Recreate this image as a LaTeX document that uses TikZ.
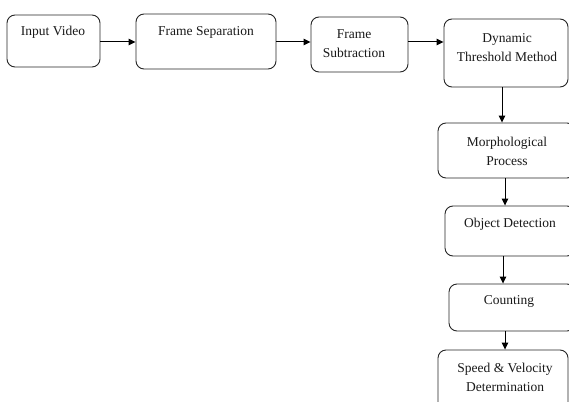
\documentclass[tikz,border=0pt]{standalone}
\usepackage{fontspec}
\setmainfont{Liberation Serif}
\usetikzlibrary{arrows.meta}
\begin{document}
\begin{tikzpicture}[x=1pt,y=-1pt,
  box/.style={draw=black!85, line width=0.9pt, rounded corners=8pt, inner sep=0pt},
  txt/.style={align=center, font=\fontsize{13.5}{19}\selectfont, inner sep=0pt, text=black!90},
  arr/.style={draw=black, line width=1pt, -{Triangle[length=7pt,width=6.5pt]}}]
\useasboundingbox (0,0) rectangle (569,401);
\clip (0,0) rectangle (569,401);
\fill[white] (0,0) rectangle (569,401);
% boxes
\node[box, minimum width=93pt, minimum height=52pt] (b1) at (53.5,41) {};
\node[box, minimum width=140pt, minimum height=55pt] (b2) at (206,41.5) {};
\node[box, minimum width=97pt, minimum height=55pt] (b3) at (359.5,44.5) {};
\node[box, minimum width=124pt, minimum height=68pt] (b4) at (506,53) {};
\node[box, minimum width=137pt, minimum height=55pt] (b5) at (506.5,150.5) {};
\node[box, minimum width=130pt, minimum height=50pt] (b6) at (510,231) {};
\node[box, minimum width=126pt, minimum height=47pt] (b7) at (512,307.5) {};
\node[box, minimum width=130pt, minimum height=60pt] (b8) at (503,380) {};
% texts
\node[txt] (t1) at (53,32) {Input Video};
\node[txt] (t2) at (206,32) {Frame Separation};
\node[txt] (t3) at (354,43.5) {Frame\\Subtraction};
\node[txt] (t4) at (507,47.5) {Dynamic\\Threshold Method};
\node[txt] (t5) at (507,151) {Morphological\\Process};
\node[txt] (t6) at (510,224) {Object Detection};
\node[txt] (t7) at (509,301) {Counting};
\node[txt] (t8) at (505,377) {Speed \& Velocity\\Determination};
% connectors
\draw[arr] (b1.east |- 0,42) -- (b2.west |- 0,42);
\draw[arr] (b2.east |- 0,42) -- (b3.west |- 0,42);
\draw[arr] (b3.east |- 0,42) -- (b4.west |- 0,42);
\draw[arr] (502,0 |- b4.south) -- (502,0 |- b5.north);
\draw[arr] (505,0 |- b5.south) -- (505,0 |- b6.north);
\draw[arr] (503,0 |- b6.south) -- (503,0 |- b7.north);
\draw[arr] (505,0 |- b7.south) -- (505,0 |- b8.north);
\end{tikzpicture}
\end{document}
